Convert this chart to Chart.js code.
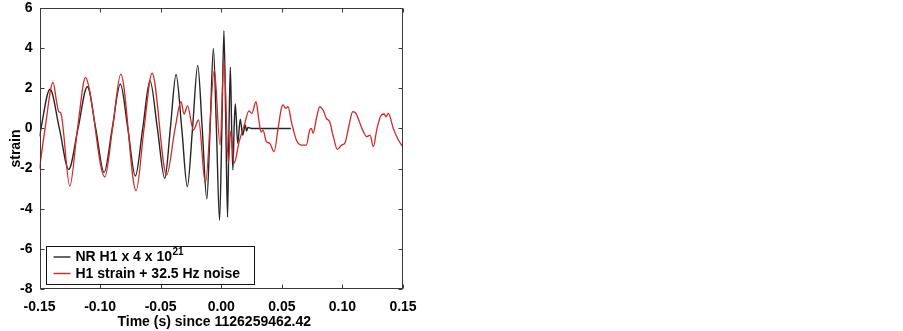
<!DOCTYPE html>
<html>
<head>
<meta charset="utf-8">
<script src="https://cdn.jsdelivr.net/npm/chart.js@4.4.1/dist/chart.umd.min.js"></script>
<style>
  html, body { margin: 0; padding: 0; background: #ffffff; }
  #wrap { width: 903px; height: 331px; }
</style>
</head>
<body>
<div id="wrap"><canvas id="c" width="903" height="331"></canvas></div>
<script>
// ---- data ----
const xTicks = [-0.15, -0.10, -0.05, 0.00, 0.05, 0.10, 0.15];
const yTicks = [6, 4, 2, 0, -2, -4, -6, -8];

const xTitle = "Time (s) since 1126259462.42";
const yTitle = "strain";
const nrLabel = "NR H1 x 4 x 10";
const nrLabelSup = "21";
const h1Label = "H1 strain + 32.5 Hz noise";

// NR H1 x 4 x 10^21 (black)
const nrTime = [
  -0.1500, -0.1413, -0.1336, -0.1259, -0.1182, -0.1105, -0.1036, -0.0967, -0.0900, -0.0833,
  -0.0771, -0.0709, -0.0648, -0.0588, -0.0527, -0.0466, -0.0420, -0.0373, -0.0326, -0.0280,
  -0.0237, -0.0194, -0.0157, -0.0119, -0.0092, -0.0065, -0.0040, -0.0014, 0.0005, 0.0022,
  0.0038, 0.0052, 0.0064, 0.0075, 0.0086, 0.0096, 0.0106, 0.0116, 0.0136, 0.0157,
  0.0177, 0.0198, 0.0209, 0.0220, 0.0250, 0.0574
];
const nrStrain = [
  -0.40, 1.95, 0.00, -2.04, 0.00, 2.08, 0.00, -2.19, 0.00, 2.21,
  0.00, -2.37, 0.00, 2.38, 0.00, -2.49, 0.00, 2.69, 0.00, -2.90,
  0.00, 3.14, 0.00, -3.52, 0.00, 3.98, 0.00, -4.58, 0.00, 4.87,
  0.00, -4.42, 0.00, 3.05, 0.00, -2.07, 0.00, 1.22, -0.74, 0.46,
  -0.33, 0.17, -0.13, 0.05, 0.00, 0.00
];

// H1 strain + 32.5 Hz noise (red)
const h1Time = [
  -0.1500, -0.1454, -0.1388, -0.1361, -0.1341, -0.1325, -0.1250, -0.1186, -0.1120, -0.1094,
  -0.0961, -0.0897, -0.0829, -0.0703, -0.0637, -0.0571, -0.0451, -0.0381, -0.0332, -0.0307,
  -0.0278, -0.0230, -0.0187, -0.0131, -0.0057, -0.0010, 0.0023, 0.0059, 0.0078, 0.0106,
  0.0147, 0.0188, 0.0229, 0.0252, 0.0287, 0.0308, 0.0328, 0.0345, 0.0372, 0.0400,
  0.0436, 0.0469, 0.0496, 0.0510, 0.0532, 0.0551, 0.0579, 0.0620, 0.0661, 0.0702,
  0.0730, 0.0744, 0.0758, 0.0786, 0.0813, 0.0840, 0.0867, 0.0895, 0.0925, 0.0958,
  0.0994, 0.1022, 0.1055, 0.1085, 0.1112, 0.1140, 0.1173, 0.1201, 0.1228, 0.1255,
  0.1283, 0.1316, 0.1344, 0.1360, 0.1379, 0.1420, 0.1462, 0.1500
];
const h1Strain = [
  -2.00, 0.00, 2.29, 1.41, 0.83, 0.78, -2.87, 0.00, 2.54, 2.11,
  -2.42, 0.00, 2.71, -3.10, 0.00, 2.75, -2.32, 0.00, 1.33, 0.72,
  1.12, -0.08, 0.42, -2.74, 2.91, -0.83, 3.48, -1.74, -0.13, -1.74,
  -0.68, 0.12, 0.87, 0.75, 1.33, 0.52, -0.18, -0.08, -0.66, -0.74,
  -1.16, 0.00, 1.00, 1.17, 1.00, 1.08, 0.33, -0.58, -0.83, -0.83,
  -0.08, 0.00, -0.24, 0.52, 1.08, 0.92, 0.50, 0.33, -0.41, -1.04,
  -0.83, -0.71, 0.17, 0.83, 0.75, 0.33, -0.16, -0.41, -0.33, -0.91,
  -0.08, 0.62, 0.72, 0.58, 0.75, 0.00, -0.58, -0.93
];

const nrColor = "#262626";
const h1Color = "#cf2a2a";
const FONT = "'Liberation Sans', Arial, sans-serif";

const toXY = (xs, ys) => xs.map((x, i) => ({ x: x, y: ys[i] }));

// frame, inward ticks on all four sides, x title and boxed legend
const framePlugin = {
  id: 'frame',
  afterDatasetsDraw(chart) {
    const { ctx, chartArea: a, scales } = chart;
    const xs = scales.x, ys = scales.y;
    ctx.save();
    ctx.strokeStyle = '#3a3a3a';
    ctx.lineWidth = 1;
    const L = Math.round(a.left) + 0.5, R = Math.round(a.right) - 0.5;
    const T = Math.round(a.top) + 0.5, B = Math.round(a.bottom) - 0.5;
    ctx.strokeRect(L, T, R - L, B - T);
    const tl = 4;
    ctx.beginPath();
    xTicks.forEach(v => {
      const px = Math.round(xs.getPixelForValue(v)) + 0.5;
      ctx.moveTo(px, B); ctx.lineTo(px, B - tl);
      ctx.moveTo(px, T); ctx.lineTo(px, T + tl);
    });
    yTicks.forEach(v => {
      const py = Math.round(ys.getPixelForValue(v)) + 0.5;
      ctx.moveTo(L, py); ctx.lineTo(L + tl, py);
      ctx.moveTo(R, py); ctx.lineTo(R - tl, py);
    });
    ctx.stroke();

    // x axis title (slightly left of the plot centre, as in the reference)
    ctx.fillStyle = '#000000';
    ctx.font = "bold 14px " + FONT;
    ctx.textAlign = 'center';
    ctx.textBaseline = 'middle';
    ctx.fillText(xTitle, (a.left + a.right) / 2 - 7, 322);

    // legend box
    const bx = a.left + 6, by = 246.5, bw = 208, bh = 38;
    ctx.fillStyle = '#ffffff';
    ctx.fillRect(bx, by, bw, bh);
    ctx.strokeStyle = '#111111';
    ctx.strokeRect(Math.round(bx) + 0.5, by, bw, bh);
    const rows = [
      { color: nrColor, y: by + 10.5, text: nrLabel, sup: nrLabelSup },
      { color: h1Color, y: by + 27, text: h1Label, sup: null }
    ];
    rows.forEach(r => {
      ctx.strokeStyle = r.color;
      ctx.lineWidth = 1.4;
      ctx.beginPath();
      ctx.moveTo(bx + 8, r.y); ctx.lineTo(bx + 25, r.y);
      ctx.stroke();
      ctx.fillStyle = '#000000';
      ctx.font = "bold 14px " + FONT;
      ctx.textBaseline = 'middle';
      ctx.textAlign = 'left';
      ctx.fillText(r.text, bx + 30, r.y + 0.5);
      if (r.sup) {
        const w = ctx.measureText(r.text).width;
        ctx.font = "bold 10px " + FONT;
        ctx.fillText(r.sup, bx + 30 + w + 0.5, r.y - 5);
      }
    });
    ctx.restore();
  }
};

new Chart(document.getElementById('c'), {
  type: 'line',
  data: {
    datasets: [
      {
        label: nrLabel + nrLabelSup,
        data: toXY(nrTime, nrStrain),
        borderColor: nrColor,
        borderWidth: 1.4,
        pointRadius: 0,
        fill: false,
        cubicInterpolationMode: 'monotone',
        order: 2
      },
      {
        label: h1Label,
        data: toXY(h1Time, h1Strain),
        borderColor: h1Color,
        borderWidth: 1.3,
        pointRadius: 0,
        fill: false,
        cubicInterpolationMode: 'monotone',
        order: 1
      }
    ]
  },
  options: {
    responsive: false,
    animation: false,
    devicePixelRatio: 1,
    layout: { padding: { left: 0, right: 500, top: 8, bottom: 0 } },
    plugins: { legend: { display: false }, tooltip: { enabled: false } },
    scales: {
      x: {
        type: 'linear',
        min: -0.15, max: 0.15,
        afterBuildTicks: s => { s.ticks = xTicks.map(v => ({ value: v })); },
        afterFit: s => { s.height = 42; s.paddingLeft = 0; s.paddingRight = 0; },
        grid: { display: false, drawTicks: false },
        border: { display: false },
        ticks: {
          padding: 10,
          color: '#000000',
          font: { family: FONT, size: 14, weight: 'bold' },
          maxRotation: 0,
          callback: v => Number(v).toFixed(2)
        },
        title: { display: false }
      },
      y: {
        type: 'linear',
        min: -8, max: 6,
        afterBuildTicks: s => { s.ticks = yTicks.map(v => ({ value: v })); },
        afterFit: s => { s.width = 39.5; s.paddingTop = 0; s.paddingBottom = 0; },
        grid: { display: false, drawTicks: false },
        border: { display: false },
        ticks: {
          padding: 7,
          color: '#000000',
          font: { family: FONT, size: 14, weight: 'bold' },
          callback: v => String(v)
        },
        title: {
          display: true,
          text: yTitle,
          color: '#000000',
          font: { family: FONT, size: 14, weight: 'bold' },
          padding: { top: 8, bottom: 0 }
        }
      }
    }
  },
  plugins: [framePlugin]
});
</script>
</body>
</html>
